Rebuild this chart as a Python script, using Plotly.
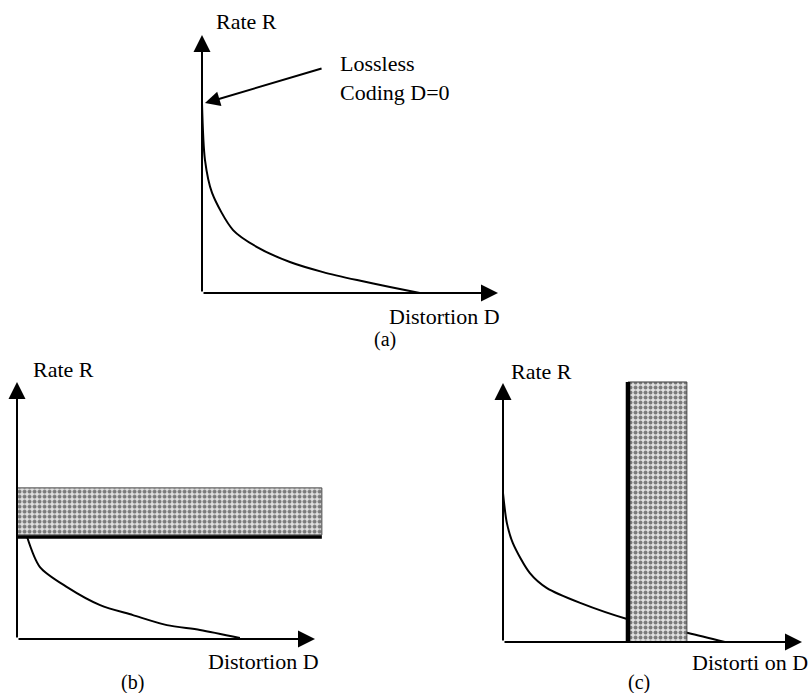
import plotly.graph_objects as go

W, H = 808, 693

# ---- data (D = distortion, R = rate, arbitrary units) ----
# (a) operational rate-distortion curve
curve_a_D = [0.0, 0.10, 0.34, 1.05, 1.86, 2.97, 4.09, 5.24, 6.35, 7.36]
curve_a_R = [7.36, 5.16, 3.88, 2.44, 1.78, 1.20, 0.81, 0.50, 0.23, 0.0]

# (b) curve under a rate constraint
curve_b_D = [0.34, 0.77, 1.68, 2.79, 3.89, 5.03, 6.14, 7.48]
curve_b_R = [3.97, 2.80, 2.02, 1.32, 0.93, 0.54, 0.35, 0.04]
rate_limit_b = 3.97           # maximum allowed rate
band_b_R = [4.05, 5.88]       # excluded rate region
band_b_D = [0.0, 10.23]

# (c) curve under a distortion constraint
curve_c_D = [0.0, 0.13, 0.33, 0.90, 1.47, 2.58, 4.15, 6.19, 7.42]
curve_c_R = [5.75, 4.59, 3.82, 2.66, 2.08, 1.51, 0.89, 0.35, 0.0]
dist_limit_c = 4.18           # maximum allowed distortion
band_c_D = [4.18, 6.15]       # excluded distortion region
band_c_R = [0.0, 10.04]

AXIS_D_MAX = 10.0
AXIS_R_MAX = 10.0

FONT = dict(family="Liberation Serif, Times New Roman, serif", size=22, color="black")
TAG_FONT = dict(family="Liberation Serif, Times New Roman, serif", size=20, color="black")

# panel placement: origin pixel, pixels per unit, data range
panels = {
    "a": dict(ox=202, oy=293, sx=29.6, sy=25.8, xr=(-0.5, 10.3), yr=(-0.5, 10.5)),
    "b": dict(ox=17, oy=639, sx=29.8, sy=25.7, xr=(-0.5, 10.3), yr=(-0.5, 10.5)),
    "c": dict(ox=503, oy=642, sx=29.9, sy=25.9, xr=(-0.5, 10.1), yr=(-0.5, 10.5)),
}

fig = go.Figure()
layout_axes = {}
axis_ids = {}
for i, (key, p) in enumerate(panels.items(), start=1):
    sfx = "" if i == 1 else str(i)
    xd = [(p["ox"] + p["xr"][0] * p["sx"]) / W, (p["ox"] + p["xr"][1] * p["sx"]) / W]
    yd = [(H - (p["oy"] - p["yr"][0] * p["sy"])) / H, (H - (p["oy"] - p["yr"][1] * p["sy"])) / H]
    common = dict(showgrid=False, zeroline=False, showticklabels=False, ticks="",
                  showline=False, fixedrange=True)
    layout_axes["xaxis" + sfx] = dict(domain=xd, range=list(p["xr"]), anchor="y" + sfx, **common)
    layout_axes["yaxis" + sfx] = dict(domain=yd, range=list(p["yr"]), anchor="x" + sfx, **common)
    axis_ids[key] = ("x" + sfx, "y" + sfx)


def to_paper(key, d, r):
    """Panel (D, R) -> paper fractions, for labels that sit outside the plot range."""
    p = panels[key]
    return (p["ox"] + d * p["sx"]) / W, (H - (p["oy"] - r * p["sy"])) / H


curve_style = dict(color="black", width=2, shape="spline", smoothing=0.8)
band_pattern = dict(shape=".", fgcolor="#111111", bgcolor="#e2e2e2", size=5, solidity=0.5)

# ---- (a) ----
xa, ya = axis_ids["a"]
fig.add_trace(go.Scatter(x=curve_a_D, y=curve_a_R, mode="lines", line=curve_style,
                         xaxis=xa, yaxis=ya, showlegend=False, hoverinfo="skip", cliponaxis=False))

# ---- (b) ----
xb, yb = axis_ids["b"]
fig.add_trace(go.Scatter(
    x=[band_b_D[0], band_b_D[1], band_b_D[1], band_b_D[0], band_b_D[0]],
    y=[band_b_R[0], band_b_R[0], band_b_R[1], band_b_R[1], band_b_R[0]],
    mode="lines", fill="toself", fillcolor="rgba(0,0,0,0)", fillpattern=band_pattern,
    line=dict(color="#444", width=1), xaxis=xb, yaxis=yb, showlegend=False, hoverinfo="skip"))
fig.add_trace(go.Scatter(x=[band_b_D[0], band_b_D[1]], y=[rate_limit_b, rate_limit_b], mode="lines",
                         line=dict(color="black", width=3.5), xaxis=xb, yaxis=yb,
                         showlegend=False, hoverinfo="skip"))
fig.add_trace(go.Scatter(x=curve_b_D, y=curve_b_R, mode="lines", line=curve_style,
                         xaxis=xb, yaxis=yb, showlegend=False, hoverinfo="skip"))

# ---- (c) ----
xc, yc = axis_ids["c"]
fig.add_trace(go.Scatter(x=curve_c_D, y=curve_c_R, mode="lines", line=curve_style,
                         xaxis=xc, yaxis=yc, showlegend=False, hoverinfo="skip"))
fig.add_trace(go.Scatter(
    x=[band_c_D[0], band_c_D[1], band_c_D[1], band_c_D[0], band_c_D[0]],
    y=[band_c_R[0], band_c_R[0], band_c_R[1], band_c_R[1], band_c_R[0]],
    mode="lines", fill="toself", fillcolor="white", fillpattern=band_pattern,
    line=dict(color="#444", width=1), xaxis=xc, yaxis=yc, showlegend=False, hoverinfo="skip"))
fig.add_trace(go.Scatter(x=[dist_limit_c, dist_limit_c], y=[band_c_R[0], band_c_R[1]], mode="lines",
                         line=dict(color="black", width=4.5), xaxis=xc, yaxis=yc,
                         showlegend=False, hoverinfo="skip"))

annotations = []


def axis_arrows(xr, yr):
    """Arrowed D and R axes starting at the origin."""
    for (tx, ty) in [(AXIS_D_MAX, 0), (0, AXIS_R_MAX)]:
        annotations.append(dict(x=tx, y=ty, ax=0, ay=0, xref=xr, yref=yr, axref=xr, ayref=yr,
                                text="", showarrow=True, arrowhead=2, arrowsize=1.7,
                                arrowwidth=2, arrowcolor="black", standoff=0, startstandoff=0))


def label(key, d, r, text, xanchor="center", yanchor="middle", align="center", font=FONT):
    px, py = to_paper(key, d, r)
    annotations.append(dict(x=px, y=py, xref="paper", yref="paper", text=text, showarrow=False,
                            xanchor=xanchor, yanchor=yanchor, align=align, font=font))


for key, (xr, yr) in axis_ids.items():
    axis_arrows(xr, yr)

# (a) labels
label("a", 1.49, 10.54, "Rate R")
label("a", 4.6, 9.45, "Lossless<br>Coding D=0", xanchor="left", yanchor="top", align="left")
annotations.append(dict(x=0.1, y=curve_a_R[0], ax=4.09, ay=8.72, xref=xa, yref=ya, axref=xa, ayref=ya,
                        text="", showarrow=True, arrowhead=2, arrowsize=1.5, arrowwidth=2,
                        arrowcolor="black", standoff=0))
label("a", 8.2, -0.9, "Distortion D")
label("a", 6.18, -1.8, "(a)", font=TAG_FONT)

# (b) labels
label("b", 1.56, 10.47, "Rate R")
label("b", 8.27, -0.87, "Distortion D")
label("b", 3.89, -1.68, "(b)", font=TAG_FONT)

# (c) labels
label("c", 1.29, 10.46, "Rate R")
label("c", 8.26, -0.81, "Distorti on D")
label("c", 4.55, -1.57, "(c)", font=TAG_FONT)

fig.update_layout(
    width=W, height=H, margin=dict(l=0, r=0, t=0, b=0),
    paper_bgcolor="white", plot_bgcolor="white",
    annotations=annotations, showlegend=False, **layout_axes,
)

fig.write_html("out.html", config={"displayModeBar": False})
